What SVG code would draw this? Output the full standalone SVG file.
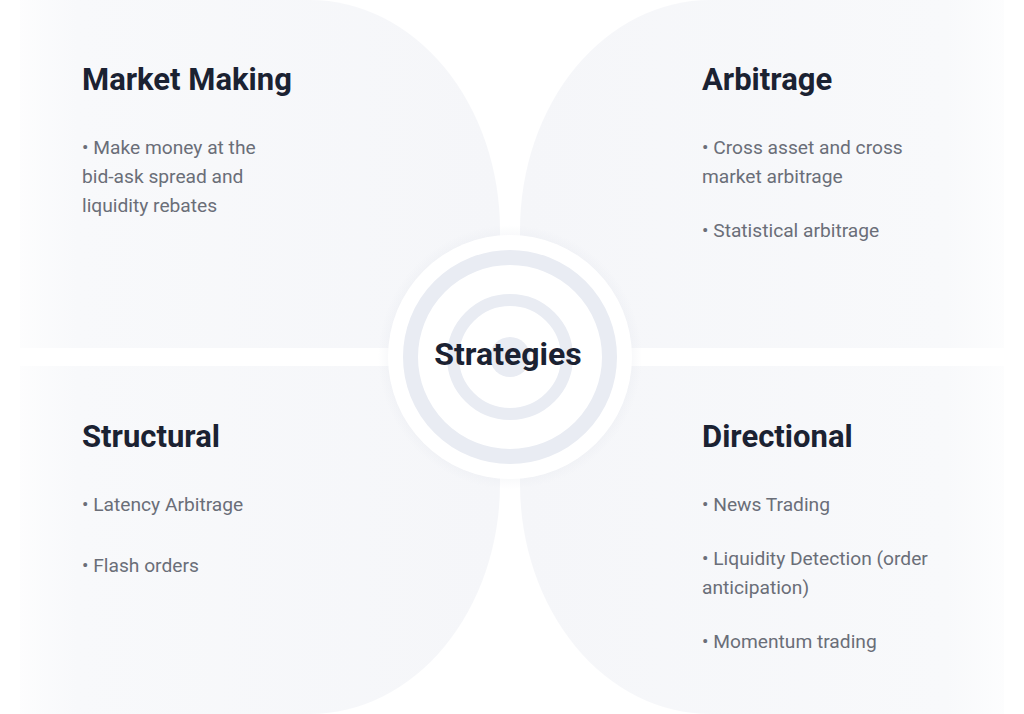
<svg xmlns="http://www.w3.org/2000/svg" width="1024" height="714" viewBox="0 0 1024 714">
<defs>
<linearGradient id="gl" x1="0" y1="0" x2="1" y2="0"><stop offset="0" stop-color="#f7f8fa" stop-opacity="0.3"/><stop offset="0.12" stop-color="#f8f9fb"/><stop offset="1" stop-color="#f5f6f9"/></linearGradient>
<linearGradient id="gr" x1="1" y1="0" x2="0" y2="0"><stop offset="0" stop-color="#f7f8fa" stop-opacity="0.3"/><stop offset="0.12" stop-color="#f8f9fb"/><stop offset="1" stop-color="#f5f6f9"/></linearGradient>
<radialGradient id="sh"><stop offset="0.8" stop-color="#dfe2ea" stop-opacity="0.5"/><stop offset="1" stop-color="#dfe2ea" stop-opacity="0"/></radialGradient>
<style>
.t{font-family:Roboto,"Liberation Sans",sans-serif;font-weight:700;font-size:31px;fill:#1b2232}
.b{font-family:Roboto,"Liberation Sans",sans-serif;font-size:19.2px;fill:#6a6e78}
.ring{fill:none;stroke:#e9ecf3}
</style>
</defs>
<rect width="1024" height="714" fill="#fff"/>
<g id="q-tl"><path d="M20 0 H310 A190 230 0 0 1 500 230 V348 H20 Z" fill="url(#gl)"/>
<text class="t" x="82" y="90">Market Making</text>
<text class="b" x="82" y="154">• Make money at the</text><text class="b" x="82" y="183">bid-ask spread and</text><text class="b" x="82" y="212">liquidity rebates</text></g>
<g id="q-tr"><path d="M1004 0 H710 A190 230 0 0 0 520 230 V348 H1004 Z" fill="url(#gr)"/>
<text class="t" x="702" y="90">Arbitrage</text>
<text class="b" x="702" y="154">• Cross asset and cross</text><text class="b" x="702" y="183">market arbitrage</text><text class="b" x="702" y="237">• Statistical arbitrage</text></g>
<g id="q-bl"><path d="M20 714 H310 A190 230 0 0 0 500 484 V366 H20 Z" fill="url(#gl)"/>
<text class="t" x="82" y="447">Structural</text>
<text class="b" x="82" y="511">• Latency Arbitrage</text><text class="b" x="82" y="572">• Flash orders</text></g>
<g id="q-br"><path d="M1004 714 H710 A190 230 0 0 1 520 484 V366 H1004 Z" fill="url(#gr)"/>
<text class="t" x="702" y="447">Directional</text>
<text class="b" x="702" y="511">• News Trading</text><text class="b" x="702" y="565">• Liquidity Detection (order</text><text class="b" x="702" y="594">anticipation)</text><text class="b" x="702" y="648">• Momentum trading</text></g>
<g id="center">
<circle cx="510" cy="357" r="132" fill="url(#sh)"/>
<circle cx="510" cy="357" r="122" fill="#fff"/>
<circle class="ring" cx="510" cy="357" r="99.5" stroke-width="15"/>
<circle class="ring" cx="510" cy="357" r="57" stroke-width="12"/>
<circle cx="510" cy="357" r="20" fill="#e9ecf3"/>
<text class="t" x="508" y="365" text-anchor="middle" style="font-size:32px">Strategies</text>
</g>
</svg>
